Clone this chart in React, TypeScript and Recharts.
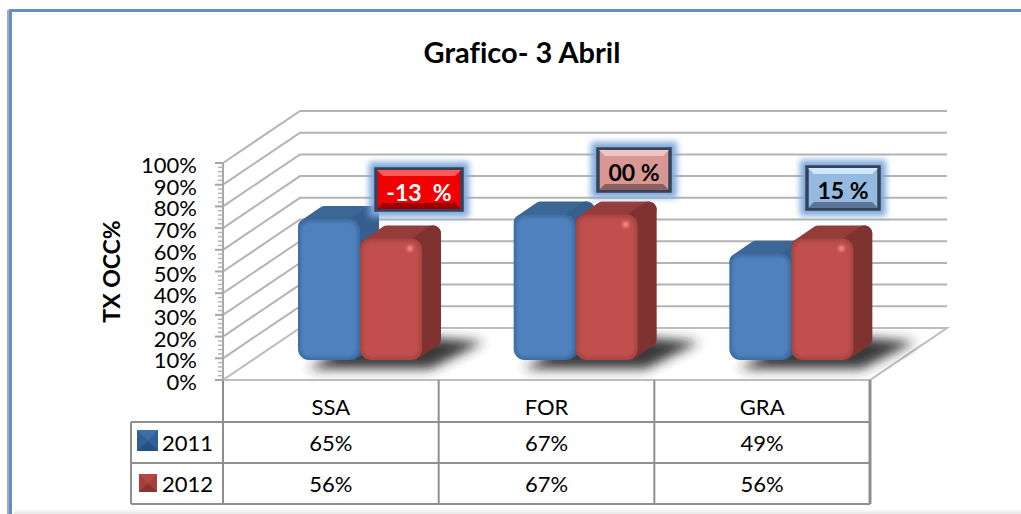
import { BarChart, Bar, XAxis, YAxis, CartesianGrid, LabelList } from "recharts";

const categories = ["SSA", "FOR", "GRA"];
const values2011 = [65, 67, 49];
const values2012 = [56, 67, 56];
const changes = ["-13  %", "00 %", "15 %"];
const yTicks = [0, 10, 20, 30, 40, 50, 60, 70, 80, 90, 100];

const chartData = categories.map((name, i) => ({
  name,
  y2011: values2011[i],
  y2012: values2012[i],
  change: changes[i],
}));

const FONT = "Lato, sans-serif";
const LEFT = 223;
const RIGHT = 870;
const TOP = 163;
const BOTTOM = 380;
// perspective of the fake 3D box
const WALL_DX = 77;
const WALL_DY = 52;
const BAR_DX = 29;
const BAR_DY = 20;
const DEPTH_X = 19;
const DEPTH_Y = 13;

const calloutStyles = [
  { box: [376, 169, 86, 41], fill: "#f00000", top: "#ff5a5a", bottom: "#9a0000", text: "#fff" },
  { box: [598, 149, 72, 42], fill: "#d99694", top: "#f0c4c2", bottom: "#8a5f5e", text: "#000" },
  { box: [807, 167, 72, 42], fill: "#95b9df", top: "#cfe8ff", bottom: "#5a7595", text: "#000" },
];

const bar3d = (front: string, top: string, side: string, edge: string) =>
  function Bar3d(props: any) {
    const { x, y, width, height } = props;
    const bx = x + BAR_DX;
    const by = y - BAR_DY;
    const r = bx + width;
    const b = by + height;
    const isRed = front === "#c0504d";
    const round = 8;
    return (
      <g>
        {!isRed && (
          <g clipPath="url(#floorClip)">
            <polygon
              points={`${r - 52},369 ${r + 70},369 ${r + 124},342 ${r + 66},337 ${r},337`}
              fill="#262626"
              fillOpacity={0.92}
              filter="url(#floorShadow)"
            />
          </g>
        )}
        <polygon
          points={`${bx + round},${by + round} ${bx + round + DEPTH_X},${by + round - DEPTH_Y} ${r - round + DEPTH_X},${by + round - DEPTH_Y} ${r - round},${by + round}`}
          fill={top}
          stroke={top}
          strokeWidth={round * 2}
          strokeLinejoin="round"
        />
        <polygon
          points={`${r - round},${by + round} ${r - round + DEPTH_X},${by + round - DEPTH_Y} ${r - round + DEPTH_X},${b - round - DEPTH_Y} ${r - round},${b - round}`}
          fill={side}
          stroke={side}
          strokeWidth={round * 2}
          strokeLinejoin="round"
        />
        <rect x={bx} y={by} width={width} height={height} rx={11} fill={edge} />
        <rect x={bx + 3} y={by + 3} width={width - 6} height={height - 6} rx={9} fill={front} filter="url(#soft)" />
        {isRed && <circle cx={r - 12} cy={by + 10} r={3} fill="#ef8f8c" filter="url(#soft)" />}
      </g>
    );
  };

const WallLine = (props: any) => {
  const { x1, x2, y1, index } = props;
  const isFloor = y1 >= BOTTOM - 1;
  return (
    <g key={`wall-${index}`}>
      {isFloor && (
        <polygon
          points={`${x1},${y1} ${x2},${y1} ${x2 + WALL_DX},${y1 - WALL_DY} ${x1 + WALL_DX},${y1 - WALL_DY}`}
          fill="#fff"
          stroke="#bdbdbd"
          strokeWidth={2}
        />
      )}
      {!isFloor && (
        <polyline
          points={`${x1},${y1} ${x1 + WALL_DX},${y1 - WALL_DY} ${x2 + WALL_DX},${y1 - WALL_DY}`}
          fill="none"
          stroke="#b4b4b4"
          strokeWidth={2}
        />
      )}
    </g>
  );
};

const YTick = (props: any) => {
  const { y, payload } = props;
  const step = (BOTTOM - TOP) / 50;
  return (
    <g>
      {payload.value < 100 &&
        [1, 2, 3, 4].map((k) => (
          <line key={k} x1={LEFT - 5} x2={LEFT} y1={y - k * step} y2={y - k * step} stroke="#b4b4b4" strokeWidth={1.5} />
        ))}
      <line x1={LEFT - 8} x2={LEFT} y1={y} y2={y} stroke="#a6a6a6" strokeWidth={2} />
      <text x={197} y={y + 10} textAnchor="end" fontFamily={FONT} fontSize={22} fill="#000">
        {`${payload.value}%`}
      </text>
    </g>
  );
};

const TableTick = (props: any) => {
  const { x, index, payload } = props;
  return (
    <g fontFamily={FONT} fontSize={22} fill="#000" textAnchor="middle">
      <text x={x} y={415}>{payload.value}</text>
      <text x={x} y={451}>{`${values2011[index]}%`}</text>
      <text x={x} y={492}>{`${values2012[index]}%`}</text>
    </g>
  );
};

const Callout = (props: any) => {
  const { index, value } = props;
  const s = calloutStyles[index];
  const [x, y, w, h] = s.box;
  const b = 7;
  return (
    <g>
      <rect x={x - 7} y={y - 7} width={w + 14} height={h + 14} fill="#7fa8da" filter="url(#glow)" />
      <rect x={x} y={y} width={w} height={h} fill={s.fill} stroke="#33435a" strokeWidth={3.5} />
      <polygon points={`${x + 1},${y + 1} ${x + w - 1},${y + 1} ${x + w - b},${y + b} ${x + b},${y + b}`} fill={s.top} />
      <polygon points={`${x + 1},${y + h - 1} ${x + w - 1},${y + h - 1} ${x + w - b},${y + h - b} ${x + b},${y + h - b}`} fill={s.bottom} />
      <text
        x={x + w / 2}
        y={y + h / 2 + 11}
        textAnchor="middle"
        fontFamily={FONT}
        fontWeight={700}
        fontSize={23}
        fill={s.text}
        style={{ whiteSpace: "pre" }}
      >
        {value}
      </text>
    </g>
  );
};

const TableFrame = () => {
  const band = (RIGHT - LEFT) / categories.length;
  const stroke = "#8f8f8f";
  const rows = [422, 463, 504];
  return (
    <g stroke={stroke} strokeWidth={2}>
      {rows.map((y) => (
        <line key={y} x1={131} x2={RIGHT} y1={y} y2={y} />
      ))}
      <line x1={131} x2={131} y1={422} y2={504} />
      {categories.map((c, i) => (
        <line key={c} x1={LEFT + band * i} x2={LEFT + band * i} y1={380} y2={504} stroke={stroke} />
      ))}
      <line x1={RIGHT} x2={RIGHT} y1={380} y2={504} strokeWidth={3} />
      <g stroke="none" filter="url(#tiny)">
        <rect x={137} y={430} width={21} height={21} fill="#2f5f98" />
        <polygon points="137,430 158,430 148,441" fill="#3c6ea8" />
        <polygon points="137,451 158,451 148,441" fill="#28517f" />
        <rect x={139} y={474} width={18} height={18} fill="#a5403d" />
        <polygon points="139,474 157,474 148,483" fill="#b24a47" />
        <polygon points="139,492 157,492 148,483" fill="#883432" />
      </g>
      <g stroke="none" fontFamily={FONT} fontSize={22} fill="#000">
        <text x={162} y={451}>2011</text>
        <text x={162} y={492}>2012</text>
      </g>
    </g>
  );
};

export default function App() {
  return (
    <div style={{ position: "absolute", left: 0, top: 0, width: 1021, height: 514, background: "#fff", overflow: "hidden" }}>
      <div style={{ position: "absolute", left: 7, top: 10, width: 2, height: 504, background: "#a8a8a8" }} />
      <div style={{ position: "absolute", left: 9, top: 10, width: 3, height: 504, background: "#5f8fcc" }} />
      <div style={{ position: "absolute", left: 9, top: 9, width: 1012, height: 3, background: "#5f8fcc" }} />
      <div
        style={{
          position: "absolute",
          left: 14,
          top: 509,
          width: 1007,
          height: 5,
          background: "linear-gradient(#ffffff, #e6e6e6)",
        }}
      />
      <BarChart
        width={1021}
        height={514}
        data={chartData}
        barSize={62}
        barGap={0}
        margin={{ top: TOP, right: 1021 - RIGHT, bottom: 4, left: 163 }}
        style={{ position: "absolute", left: 0, top: 0 }}
      >
        <defs>
          <filter id="floorShadow" filterUnits="userSpaceOnUse" x={LEFT} y={300} width={RIGHT - LEFT + WALL_DX} height={110}>
            <feGaussianBlur stdDeviation="6" />
          </filter>
          <filter id="soft" x="-20%" y="-20%" width="140%" height="140%">
            <feGaussianBlur stdDeviation="1.5" />
          </filter>
          <filter id="tiny" x="-5%" y="-5%" width="110%" height="110%">
            <feGaussianBlur stdDeviation="0.7" />
          </filter>
          <filter id="glow" x="-30%" y="-50%" width="160%" height="200%">
            <feGaussianBlur stdDeviation="3" />
          </filter>
          <clipPath id="floorClip">
            <rect x={LEFT} y={330} width={RIGHT - LEFT + WALL_DX} height={BOTTOM - 331} />
          </clipPath>
        </defs>
        <CartesianGrid vertical={false} horizontal={WallLine as any} />
        <XAxis
          dataKey="name"
          height={130}
          axisLine={false}
          tickLine={false}
          interval={0}
          tick={TableTick as any}
        />
        <YAxis
          width={60}
          domain={[0, 100]}
          ticks={yTicks}
          interval={0}
          tickLine={false}
          axisLine={{ stroke: "#a6a6a6", strokeWidth: 2 }}
          tick={YTick as any}
          label={{
            value: "TX OCC%",
            angle: -90,
            position: "insideLeft",
            dx: -56,
            style: { fontFamily: FONT, fontWeight: 700, fontSize: 23, fill: "#000", textAnchor: "middle" },
          }}
        />
        <Bar
          dataKey="y2011"
          isAnimationActive={false}
          shape={bar3d("#4f81bd", "#3c6795", "#365f8e", "#3f6ea6") as any}
        />
        <Bar
          dataKey="y2012"
          isAnimationActive={false}
          shape={bar3d("#c0504d", "#943c3a", "#7f3331", "#a94542") as any}
        >
          <LabelList dataKey="change" content={Callout as any} />
        </Bar>
        <TableFrame />
        <text
          x={522}
          y={63}
          textAnchor="middle"
          fontFamily={FONT}
          fontWeight={700}
          fontSize={29}
          fill="#000"
          style={{ fontVariantLigatures: "none" }}
        >
          Grafico- 3 Abril
        </text>
      </BarChart>
    </div>
  );
}
